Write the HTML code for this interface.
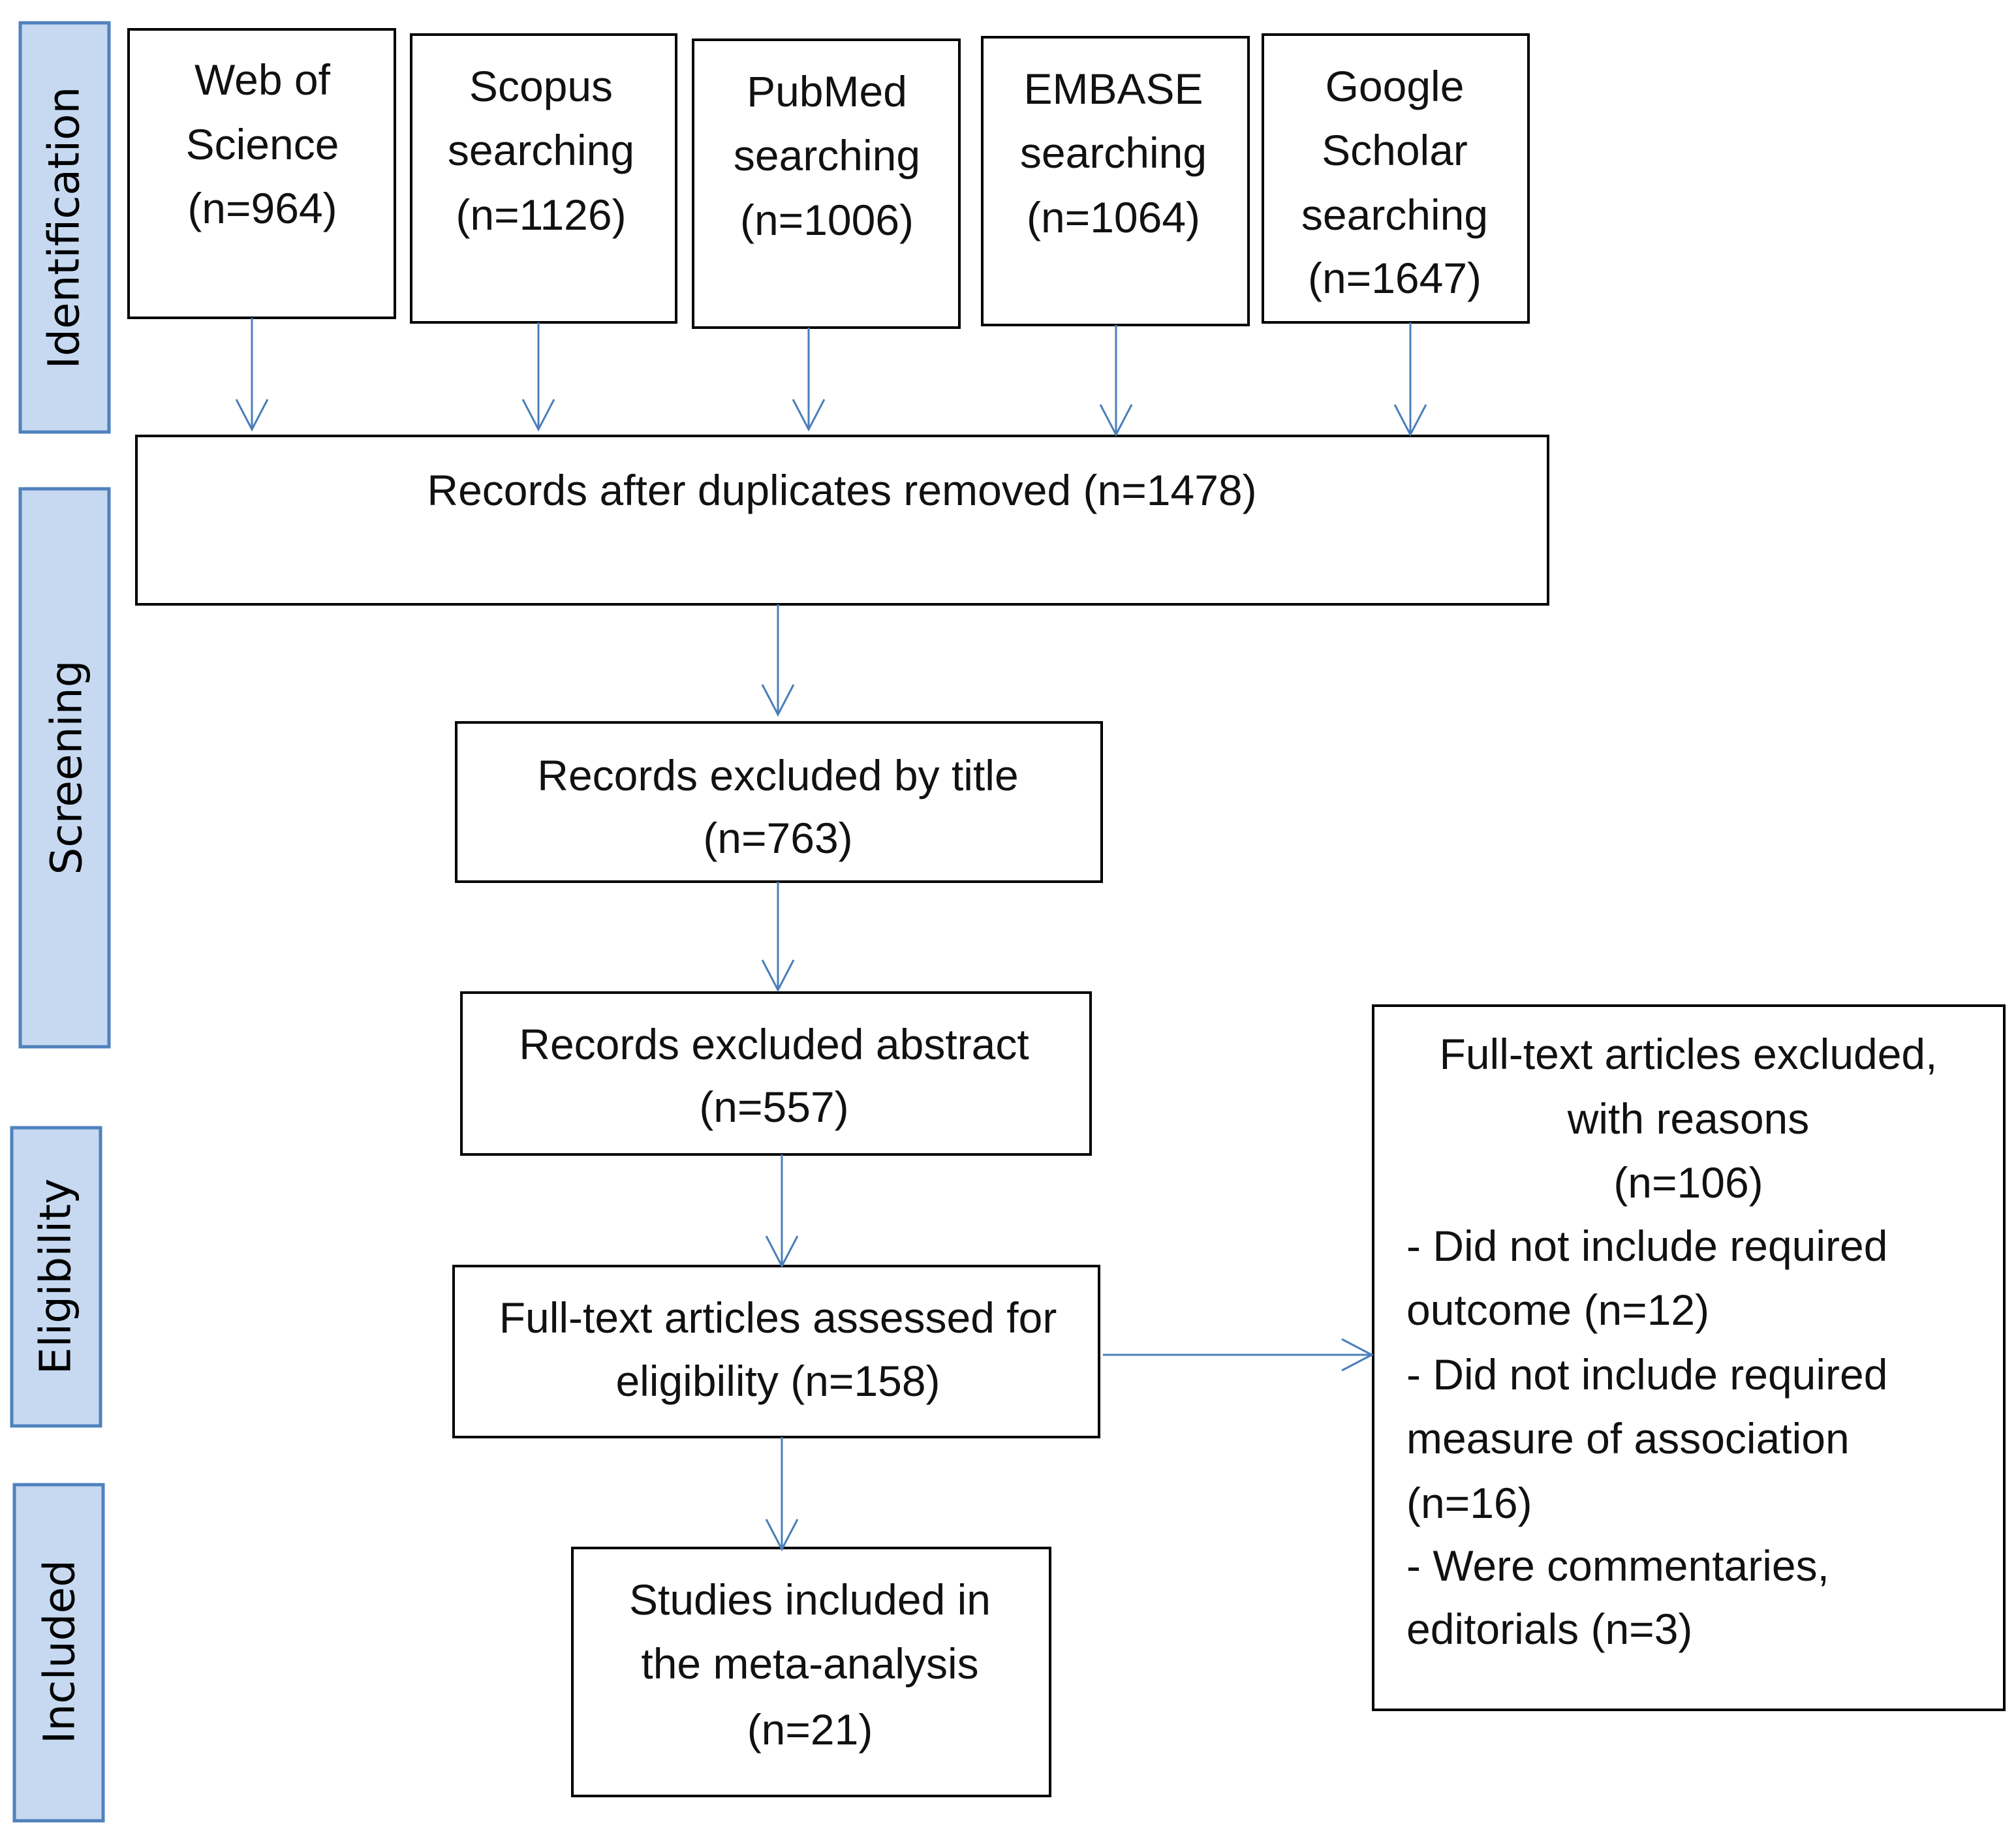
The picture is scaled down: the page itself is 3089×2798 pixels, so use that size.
<!DOCTYPE html>
<html><head><meta charset="utf-8"><style>html,body{margin:0;padding:0;background:#fff}svg{display:block}</style></head><body>
<svg xmlns="http://www.w3.org/2000/svg" width="3089" height="2798" viewBox="0 0 3089 2798">
<rect width="3089" height="2798" fill="#fff"/>
<g fill="#c6d9f1" stroke="#4f81bd" stroke-width="5">
<rect x="31" y="35" width="136" height="627"/>
<rect x="31" y="749" width="136" height="855"/>
<rect x="18" y="1728" width="136" height="457"/>
<rect x="22" y="2275" width="136" height="515"/>
</g>
<g font-family="'DejaVu Sans',sans-serif" font-size="66" fill="#000" text-anchor="middle" dominant-baseline="central">
<text transform="translate(98,349) rotate(-90)">Identification</text>
<text transform="translate(102,1176) rotate(-90)">Screening</text>
<text transform="translate(85,1956) rotate(-90)">Eligibility</text>
<text transform="translate(91,2531) rotate(-90)">Included</text>
</g>
<g fill="none" stroke="#000" stroke-width="4">
<rect x="197" y="45" width="408" height="442"/>
<rect x="630" y="53" width="406" height="441"/>
<rect x="1062" y="61" width="408" height="441"/>
<rect x="1505" y="57" width="408" height="441"/>
<rect x="1935" y="53" width="407" height="441"/>
<rect x="209" y="668" width="2163" height="258"/>
<rect x="699" y="1107" width="989" height="244"/>
<rect x="707" y="1521" width="964" height="248"/>
<rect x="695" y="1940" width="989" height="262"/>
<rect x="877" y="2372" width="732" height="380"/>
<rect x="2104" y="1541" width="967" height="1079"/>
</g>
<g stroke="#4a7ebb" stroke-width="3" fill="none">
<path d="M386 487V658M362 612L386 658L410 612"/>
<path d="M825 494V658M801 612L825 658L849 612"/>
<path d="M1239 502V658M1215 612L1239 658L1263 612"/>
<path d="M1710 498V666M1686 620L1710 666L1734 620"/>
<path d="M2161 494V666M2137 620L2161 666L2185 620"/>
<path d="M1192 926V1095M1168 1049L1192 1095L1216 1049"/>
<path d="M1192 1351V1517M1168 1471L1192 1517L1216 1471"/>
<path d="M1198 1769V1940M1174 1894L1198 1940L1222 1894"/>
<path d="M1198 2202V2374M1174 2328L1198 2374L1222 2328"/>
<path d="M1690 2076H2102M2056 2052L2102 2076L2056 2100"/>
</g>
<g font-family="'Liberation Sans',sans-serif" font-size="66" fill="#111" text-anchor="middle" dominant-baseline="central">
<text x="402" y="122">Web of</text><text x="402" y="221">Science</text><text x="402" y="319">(n=964)</text>
<text x="829" y="132">Scopus</text><text x="829" y="230">searching</text><text x="829" y="329">(n=1126)</text>
<text x="1267" y="140">PubMed</text><text x="1267" y="238">searching</text><text x="1267" y="337">(n=1006)</text>
<text x="1706" y="136">EMBASE</text><text x="1706" y="234">searching</text><text x="1706" y="333">(n=1064)</text>
<text x="2137" y="132">Google</text><text x="2137" y="230">Scholar</text><text x="2137" y="329">searching</text><text x="2137" y="426">(n=1647)</text>
<text x="1290" y="751">Records after duplicates removed (n=1478)</text>
<text x="1192" y="1188">Records excluded by title</text><text x="1192" y="1284">(n=763)</text>
<text x="1186" y="1600">Records excluded abstract</text><text x="1186" y="1696">(n=557)</text>
<text x="1192" y="2019">Full-text articles assessed for</text><text x="1192" y="2116">eligibility (n=158)</text>
<text x="1241" y="2451">Studies included in</text><text x="1241" y="2549">the meta-analysis</text><text x="1241" y="2650">(n=21)</text>
<text x="2587" y="1615">Full-text articles excluded,</text><text x="2587" y="1714">with reasons</text><text x="2587" y="1812">(n=106)</text>
<g text-anchor="start">
<text x="2155" y="1909">- Did not include required</text>
<text x="2155" y="2007">outcome (n=12)</text>
<text x="2155" y="2106">- Did not include required</text>
<text x="2155" y="2204">measure of association</text>
<text x="2155" y="2303">(n=16)</text>
<text x="2155" y="2399">- Were commentaries,</text>
<text x="2155" y="2496">editorials (n=3)</text>
</g>
</g>
</svg>
</body></html>
